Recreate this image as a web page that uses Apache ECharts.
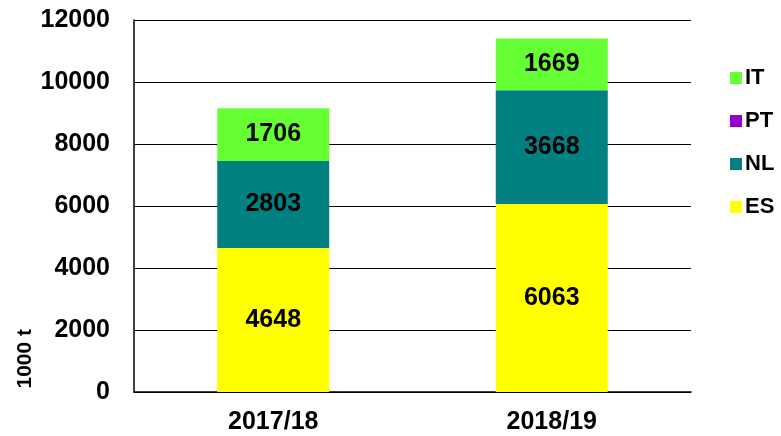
<!DOCTYPE html>
<html>
<head>
<meta charset="utf-8">
<script src="https://cdn.jsdelivr.net/npm/echarts@6/dist/echarts.min.js"></script>
<style>
  html, body { margin: 0; padding: 0; background: #fff; }
  #chart { width: 781px; height: 436px; }
</style>
</head>
<body>
<div id="chart"></div>
<script>
const seasons = ['2017/18', '2018/19']
const esValues = [4648, 6063]
const nlValues = [2803, 3668]
const ptValues = [0, 0]
const itValues = [1706, 1669]
const yTicks = [0, 2000, 4000, 6000, 8000, 10000, 12000]

const font = 'Liberation Sans, Arial, sans-serif'

function barSeries (name, data, color, showLabel) {
  return {
    name: name,
    type: 'bar',
    stack: 'total',
    barWidth: 112,
    data: data,
    itemStyle: { color: color },
    label: {
      show: showLabel,
      position: 'inside',
      color: '#000',
      fontFamily: font,
      fontWeight: 'bold',
      fontSize: 25
    }
  }
}

let myChart = echarts.init(document.getElementById('chart'))

let option = {
  backgroundColor: '#fff',
  animation: false,
  grid: { left: 134, right: 90, top: 20, bottom: 44 },
  legend: {
    data: ['IT', 'PT', 'NL', 'ES'],
    orient: 'vertical',
    left: 730,
    top: 67,
    padding: 0,
    itemWidth: 12,
    itemHeight: 12,
    itemGap: 21,
    icon: 'rect',
    textStyle: { fontFamily: font, fontWeight: 'bold', fontSize: 22, lineHeight: 22, color: '#000', padding: [0, 0, 0, -2] }
  },
  xAxis: {
    type: 'category',
    data: seasons,
    axisLine: { lineStyle: { color: '#000', width: 1.5 } },
    axisTick: { show: false },
    axisLabel: { fontFamily: font, fontWeight: 'bold', fontSize: 25, color: '#000', margin: 18 }
  },
  yAxis: {
    type: 'value',
    min: yTicks[0],
    max: yTicks[yTicks.length - 1],
    interval: 2000,
    axisLine: { show: true, lineStyle: { color: '#000', width: 1.5 } },
    axisTick: { show: false },
    splitLine: { lineStyle: { color: '#000', width: 1.2 } },
    axisLabel: {
      fontFamily: font, fontWeight: 'bold', fontSize: 25, color: '#000', margin: 24,
      formatter: function (v) { return String(v) }
    }
  },
  graphic: [{
    type: 'text',
    left: 15,
    top: 329,
    rotation: Math.PI / 2,
    style: {
      text: '1000 t',
      font: 'bold 21px ' + font,
      fill: '#000'
    }
  }],
  series: [
    barSeries('ES', esValues, '#ffff00', true),
    barSeries('NL', nlValues, '#008080', true),
    barSeries('PT', ptValues, '#9900cc', false),
    barSeries('IT', itValues, '#66ff33', true)
  ]
}
myChart.setOption(option)
</script>
</body>
</html>
